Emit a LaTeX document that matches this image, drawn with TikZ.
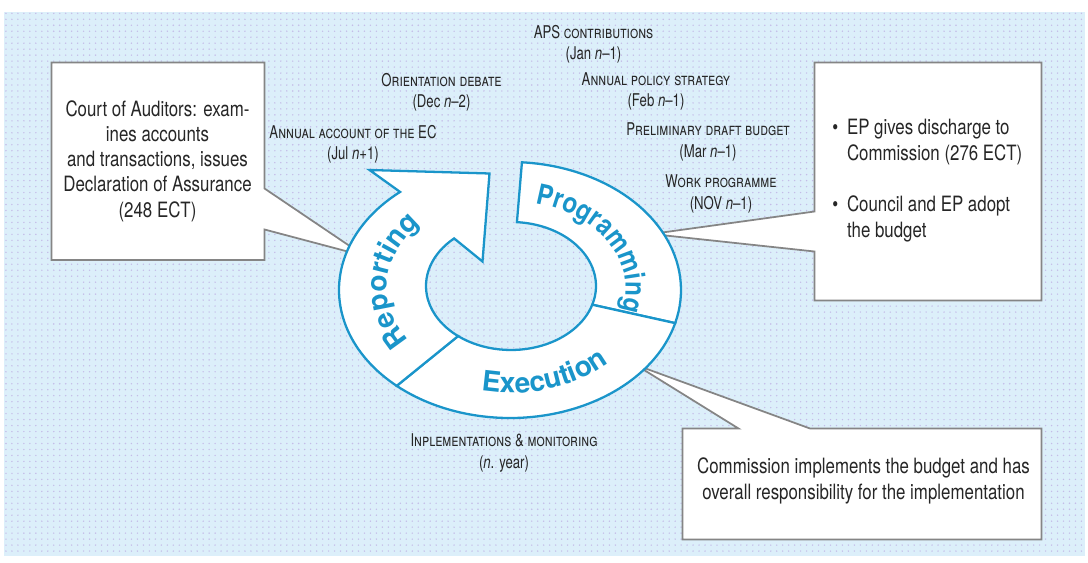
\documentclass[tikz,border=0pt]{standalone}
\usepackage{fontspec}
\setmainfont{TeX Gyre Heros}[FakeStretch=0.8]
\newfontfamily\lblfont{TeX Gyre Heros}[FakeStretch=0.75, Ligatures=TeX]
\newfontfamily\ringfont{TeX Gyre Heros}
\newfontfamily\ringnarrow{TeX Gyre Heros}[FakeStretch=0.86]
\usetikzlibrary{calc,patterns.meta,decorations.text}
\definecolor{ring}{HTML}{1A95CA}
\definecolor{ink}{HTML}{262626}
\definecolor{call}{HTML}{858585}
\definecolor{paper}{HTML}{DCEFFA}
\definecolor{dots}{HTML}{C4BCE8}
\tikzset{
  seg/.style={draw=ring, fill=white, line width=1.3pt},
  callout/.style={draw=call, fill=white, line width=1.0pt},
  outer/.style={x radius=3.42, y radius=2.56},
  inner/.style={x radius=1.70, y radius=1.28},
  lbl/.style={font=\lblfont\fontsize{10}{12}\selectfont, text=ink, align=center, inner sep=0pt},
  boxtxt/.style={font=\fontsize{12}{14.4}\selectfont, text=ink, align=center, inner sep=0pt},
  ringlbl/.style={decorate, decoration={text along path, text align=center, text color=ring,
    text={|\ringfont\bfseries\fontsize{16}{16}\selectfont|#1}}},
  ringlblnarrow/.style={decorate, decoration={text along path, text align=center, text color=ring,
    text={|\ringnarrow\bfseries\fontsize{16}{16}\selectfont|#1}}},
}

\begin{document}
\begin{tikzpicture}
  \useasboundingbox (0,0) rectangle (21.76,11.26);
  % ---------------- dotted paper ----------------
  \fill[paper] (0.08,0.14) rectangle (21.70,11.02);
  \fill[pattern={Dots[distance=3.4pt,radius=0.45pt]}, pattern color=dots] (0.08,0.14) rectangle (21.70,11.02);

  % ---------------- callout boxes (tips run under the ring) ----------------
  \draw[callout] (1.03,10.01) -- (5.29,10.01) -- (5.29,7.49) -- (7.29,6.14) -- (5.29,6.67)
    -- (5.29,6.06) -- (1.03,6.06) -- cycle;
  \draw[callout] (16.29,10.01) -- (20.83,10.01) -- (20.83,5.25) -- (16.29,5.25) -- (16.29,6.23)
    -- (13.03,6.58) -- (16.29,7.03) -- cycle;
  \draw[callout] (13.65,2.69) -- (14.77,2.69) -- (12.72,3.96) -- (16.20,2.69) -- (20.83,2.69)
    -- (20.83,0.47) -- (13.65,0.47) -- cycle;

  % ---------------- the cycle ----------------
  \coordinate (oc) at (10.20,5.46);
  \coordinate (ic) at (10.22,5.54);
  \coordinate (tc) at (10.21,5.50);
  \coordinate (pgo) at ($(oc)+(86:3.42 and 2.56)$);
  \coordinate (peo) at ($(oc)+(-15:3.42 and 2.56)$);
  \coordinate (reo) at ($(oc)+(228.5:3.42 and 2.56)$);
  \coordinate (pei) at ($(ic)+(-17:1.70 and 1.28)$);
  \coordinate (rei) at ($(ic)+(231.5:1.70 and 1.28)$);
  \coordinate (notch) at ($(ic)+(132:1.70 and 1.28)$);
  \coordinate (wing) at (7.39,7.86);
  \coordinate (tip) at (9.79,7.79);
  \coordinate (corner) at (9.65,6.03);
  % programming
  \draw[seg] (pgo) arc[outer, start angle=86, end angle=-15] -- (pei)
    arc[inner, start angle=-17, end angle=86] -- cycle;
  % execution
  \draw[seg] (peo) arc[outer, start angle=-15, end angle=-131.5] -- (rei)
    arc[inner, start angle=-128.5, end angle=-17] -- cycle;
  % reporting, ending in the arrow head
  \draw[seg] (reo) arc[outer, start angle=228.5, end angle=130] -- (wing) -- (tip) -- (corner)
    -- (notch) arc[inner, start angle=132, end angle=231.5] -- cycle;
  \path[ringlblnarrow=Programming] ($(tc)+(97:2.30 and 1.73)$) arc[start angle=97, end angle=-39, x radius=2.30, y radius=1.73];
  \path[ringlbl=Execution] ($(tc)+(-150:2.80 and 2.10)$) arc[start angle=-150, end angle=10, x radius=2.80, y radius=2.10];
  \path[ringlbl=Reporting] ($(tc)+(240:2.47 and 1.86)$) arc[start angle=240, end angle=112, x radius=2.47, y radius=1.86];

  % ---------------- stages round the cycle ----------------
  \node[lbl] (contrib) at (11.87,10.38) {\textsc{APS contributions}\\(Jan \textit{n}--1)};
  \node[lbl] (debate) at (8.83,9.41) {\textsc{Orientation debate}\\(Dec \textit{n}--2)};
  \node[lbl] (strategy) at (13.12,9.43) {\textsc{Annual policy strategy}\\(Feb \textit{n}--1)};
  \node[lbl] (draft) at (14.16,8.42) {\textsc{Preliminary draft budget}\\(Mar \textit{n}--1)};
  \node[lbl] (work) at (14.42,7.38) {\textsc{Work programme}\\(NOV \textit{n}--1)};
  \node[lbl] (account) at (7.06,8.38) {\textsc{Annual account of the EC}\\(Jul \textit{n}+1)};
  \node[lbl] (monitor) at (10.08,2.20) {\textsc{Inplementations \& monitoring}\\(\textit{n}. year)};

  % ---------------- box texts ----------------
  \node[boxtxt] (court) at (3.15,8.04) {Court of Auditors: exam-\\ines accounts\\and transactions, issues\\Declaration of Assurance\\(248 ECT)};
  \node[boxtxt, anchor=west, align=left] (discharge) at (16.64,7.64) {\begin{tabular}{@{}l@{\hspace{5pt}}l@{}}
    \textbullet & EP gives discharge to\\ & Commission (276 ECT)\\[15pt]
    \textbullet & Council and EP adopt\\ & the budget\end{tabular}};
  \node[boxtxt] (commission) at (17.27,1.64) {Commission implements the budget and has\\overall responsibility for the implementation};
\end{tikzpicture}
\end{document}
